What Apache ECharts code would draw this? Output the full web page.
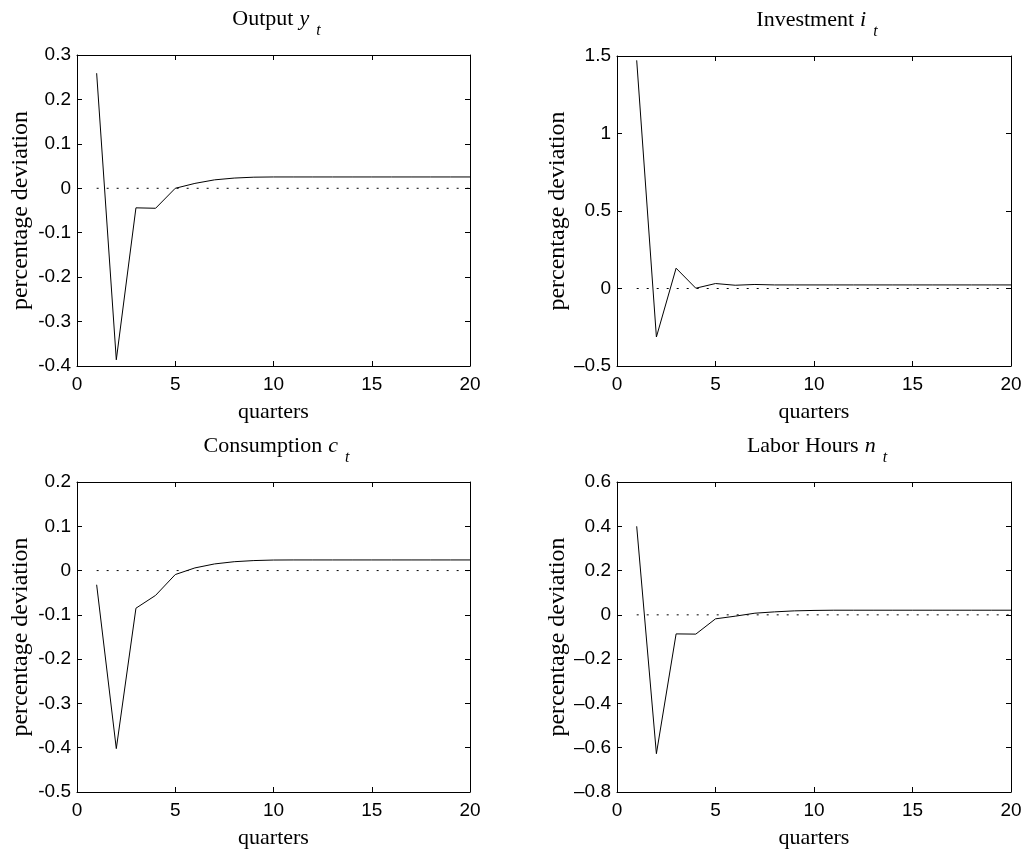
<!DOCTYPE html>
<html><head><meta charset="utf-8">
<script src="https://cdn.jsdelivr.net/npm/echarts@6/dist/echarts.min.js"></script>
<style>html,body{margin:0;padding:0;background:#fff}#c{width:1027px;height:856px}</style>
</head><body><div id="c"></div>
<script>
const quarters = [1,2,3,4,5,6,7,8,9,10,11,12,13,14,15,16,17,18,19,20];
const outputY = [0.259,-0.386,-0.044,-0.045,0.0,0.011,0.019,0.023,0.025,0.0255,0.0255,0.0255,0.0255,0.0255,0.0255,0.0255,0.0255,0.0255,0.0255,0.0255];
const investmentI = [1.472,-0.313,0.131,0.002,0.032,0.021,0.026,0.023,0.023,0.023,0.023,0.023,0.023,0.023,0.023,0.023,0.023,0.023,0.023,0.023];
const consumptionC = [-0.032,-0.402,-0.085,-0.056,-0.009,0.006,0.015,0.020,0.0226,0.0238,0.024,0.024,0.024,0.024,0.024,0.024,0.024,0.024,0.024,0.024];
const laborN = [0.40,-0.627,-0.086,-0.087,-0.018,-0.006,0.0075,0.0135,0.018,0.020,0.021,0.021,0.021,0.021,0.021,0.021,0.021,0.021,0.021,0.021];
const titleNames = ['Output','Investment','Consumption','Labor Hours'];
const titleVars = ['y','i','c','n'];
const yMins = [-0.4,-0.5,-0.5,-0.8];
const yMaxs = [0.3,1.5,0.2,0.6];
const yIntervals = [0.1,0.5,0.1,0.2];
const xTicks = [0,5,10,15,20];

const seriesData = [outputY, investmentI, consumptionC, laborN];
const grids = [
  {left:77, top:55, width:393, height:311},
  {left:617, top:56, width:394, height:310},
  {left:77, top:482, width:393, height:310},
  {left:617, top:482, width:394, height:310}
];
const serif = '"Liberation Serif","Times New Roman",serif';
const sans = '"Liberation Sans",Arial,sans-serif';
const opt = {animation:false, backgroundColor:'#fff', grid:[], xAxis:[], yAxis:[], series:[], title:[]};
grids.forEach((g,k)=>{
  opt.grid.push(g);
  const right = k % 2 === 1;
  const fmt = v => { let s = String(Math.round(v*1000)/1000); return right ? s.replace('-', '\u2013') : s; };
  const axLine = {show:true, onZero:false, lineStyle:{color:'#000', width:1}};
  const tick = {show:true, inside:true, length:5, lineStyle:{color:'#000'}};
  opt.xAxis.push({type:'value', gridIndex:k, min:xTicks[0], max:xTicks[xTicks.length-1], interval:xTicks[1]-xTicks[0],
    axisLine:axLine, axisTick:tick, splitLine:{show:false},
    axisLabel:{color:'#000', fontFamily:sans, fontSize:19, margin:9},
    name:'quarters', nameLocation:'middle', nameGap:35, nameTextStyle:{color:'#000', fontFamily:serif, fontSize:22}});
  opt.xAxis.push({type:'value', gridIndex:k, position:'top', min:xTicks[0], max:xTicks[xTicks.length-1], interval:xTicks[1]-xTicks[0],
    axisLine:axLine, axisTick:tick, axisLabel:{show:false}, splitLine:{show:false}});
  opt.yAxis.push({type:'value', gridIndex:k, min:yMins[k], max:yMaxs[k], interval:yIntervals[k],
    axisLine:axLine, axisTick:tick, splitLine:{show:false},
    axisLabel:{color:'#000', fontFamily:sans, fontSize:19, margin:6, formatter:fmt},
    name:'percentage deviation', nameLocation:'middle', nameGap:44, nameRotate:90,
    nameTextStyle:{color:'#000', fontFamily:serif, fontSize:24}});
  opt.yAxis.push({type:'value', gridIndex:k, position:'right', min:yMins[k], max:yMaxs[k], interval:yIntervals[k],
    axisLine:axLine, axisTick:tick, axisLabel:{show:false}, splitLine:{show:false}});
  opt.series.push({type:'line', xAxisIndex:2*k, yAxisIndex:2*k, symbol:'none',
    data: quarters.map((q,i)=>[q,0]), lineStyle:{color:'#000', width:1, type:[2,8]}, z:2});
  opt.series.push({type:'line', xAxisIndex:2*k, yAxisIndex:2*k, symbol:'none',
    data: quarters.map((q,i)=>[q,seriesData[k][i]]), lineStyle:{color:'#000', width:1}, z:3});
  opt.title.push({left: g.left + g.width/2 + 3, top: g.top - 56, padding:0, textAlign:'center',
    text: '{n|' + titleNames[k] + '}{v|' + titleVars[k] + '}{s|t}',
    textStyle:{rich:{
      n:{fontFamily:serif, fontSize:22, fontWeight:'normal', color:'#000'},
      v:{fontFamily:serif, fontSize:22, fontWeight:'normal', fontStyle:'italic', color:'#000', padding:[0,0,0,6]},
      s:{fontFamily:serif, fontSize:16, fontWeight:'normal', fontStyle:'italic', color:'#000', padding:[24,0,0,7]}
    }}});
});
const chart = echarts.init(document.getElementById('c'), null, {renderer:'canvas'});
chart.setOption(opt);
</script></body></html>
